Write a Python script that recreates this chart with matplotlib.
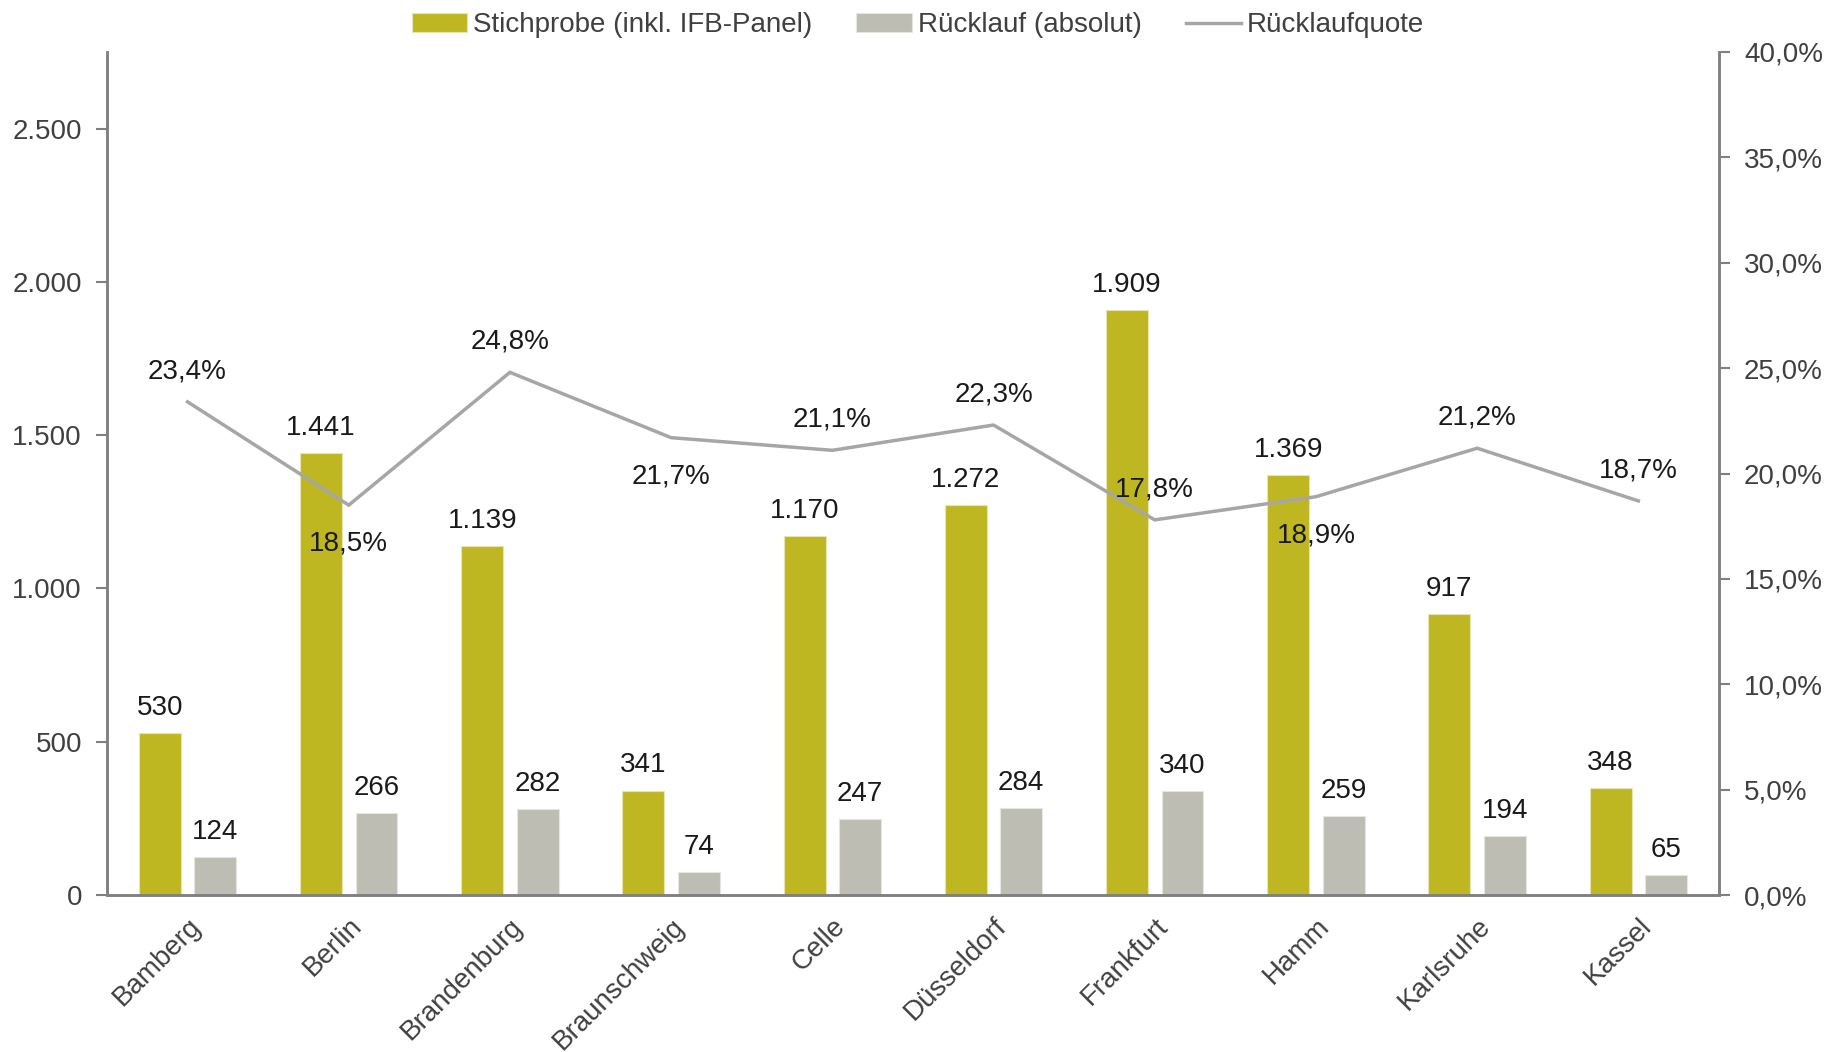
import matplotlib
matplotlib.use("Agg")
import numpy as np
import matplotlib.pyplot as plt
from matplotlib.ticker import FuncFormatter

plt.rcParams['font.family'] = ['Liberation Sans', 'DejaVu Sans']

staedte = ["Bamberg", "Berlin", "Brandenburg", "Braunschweig", "Celle",
           "Düsseldorf", "Frankfurt", "Hamm", "Karlsruhe", "Kassel"]
stichprobe = [530, 1441, 1139, 341, 1170, 1272, 1909, 1369, 917, 348]
ruecklauf = [124, 266, 282, 74, 247, 284, 340, 259, 194, 65]
quote = [23.4, 18.5, 24.8, 21.7, 21.1, 22.3, 17.8, 18.9, 21.2, 18.7]
# where each percentage label sits relative to its point
quote_pos = ["o", "u", "o", "u", "o", "o", "o", "u", "o", "o"]

GREEN = "#bfb721"
GREY = "#bdbdb3"
LINE = "#a6a6a6"
AXIS = "#808080"
TICK = "#404040"
TXT = "#1a1a1a"
FS = 20


def de_int(v, _=None):
    return f"{int(v):,}".replace(",", ".")


def de_pct(v, _=None):
    return f"{v:.1f}%".replace(".", ",")


fig = plt.figure(figsize=(18.25, 10.52), dpi=100)
ax = fig.add_axes([0.0586, 0.1492, 0.8833, 0.8014])
ax2 = ax.twinx()

x = np.arange(len(staedte))
w = 0.26
b1 = ax.bar(x - 0.172, stichprobe, w, color=GREEN, edgecolor="#e8e4b0", linewidth=0.8,
            label="Stichprobe (inkl. IFB-Panel)")
b2 = ax.bar(x + 0.172, ruecklauf, w, color=GREY, edgecolor="#e6e6e0", linewidth=0.8,
            label="Rücklauf (absolut)")

for bars, vals in ((b1, stichprobe), (b2, ruecklauf)):
    for r, v in zip(bars, vals):
        ax.annotate(de_int(v), (r.get_x() + r.get_width() / 2, v),
                    xytext=(0, 13), textcoords="offset points",
                    ha="center", va="baseline", fontsize=FS, color=TXT)

ln, = ax2.plot(x, quote, color=LINE, linewidth=2.5, label="Rücklaufquote",
               solid_joinstyle="miter")
for xi, q, p in zip(x, quote, quote_pos):
    dy = 17 if p == "o" else -33
    ax2.annotate(de_pct(q), (xi, q), xytext=(0, dy), textcoords="offset points",
                 ha="center", va="baseline", fontsize=FS, color=TXT)

ax.set_xlim(-0.5, len(staedte) - 0.5)
ax.set_ylim(0, 2750)
ax.set_yticks(np.arange(0, 2501, 500))
ax.yaxis.set_major_formatter(FuncFormatter(de_int))
ax2.set_ylim(0, 40)
ax2.set_yticks(np.arange(0, 40.1, 5))
ax2.yaxis.set_major_formatter(FuncFormatter(de_pct))

ax.set_xticks(x)
ax.set_xticklabels(staedte, rotation=45, ha="right", va="top",
                   rotation_mode="anchor")
ax.tick_params(axis="x", length=0, pad=13, labelsize=FS, labelcolor=TICK)
ax.tick_params(axis="y", direction="out", length=8, width=1.5, color=AXIS,
               pad=10, labelsize=FS, labelcolor=TICK)
ax2.tick_params(axis="y", direction="out", length=8, width=1.5, color=AXIS,
                pad=10, labelsize=FS, labelcolor=TICK)

for a in (ax, ax2):
    a.spines["top"].set_visible(False)
    for s in ("left", "right", "bottom"):
        a.spines[s].set_color(AXIS)
        a.spines[s].set_linewidth(1.8)

fig.legend(handles=[b1, b2, ln], loc="center", bbox_to_anchor=(0.503, 0.976),
           ncol=3, frameon=False, fontsize=FS, handlelength=2.0,
           handletextpad=0.2, columnspacing=1.6, labelcolor=TICK)

fig.savefig("out.png", dpi=100)
